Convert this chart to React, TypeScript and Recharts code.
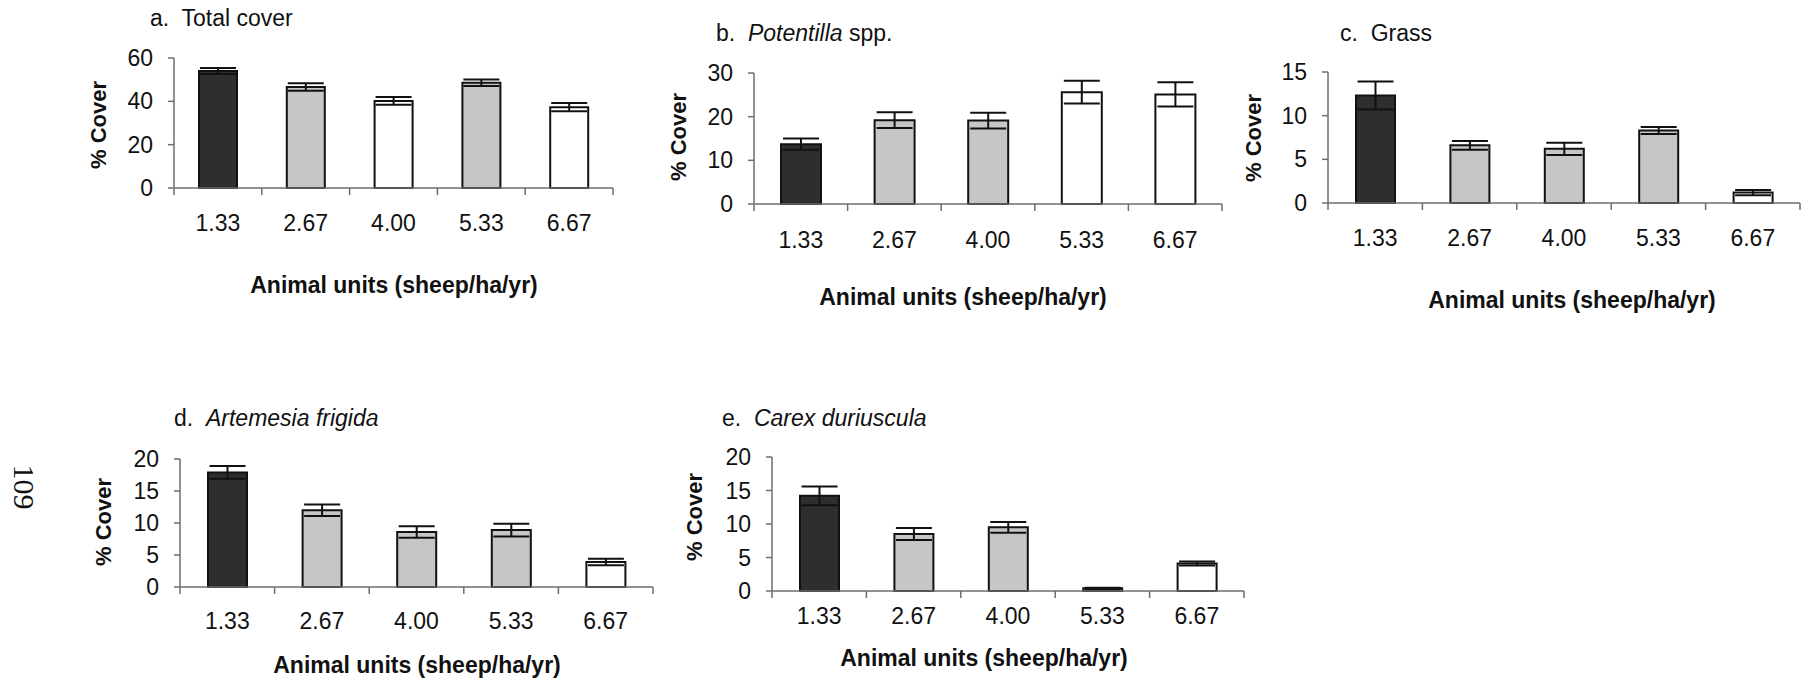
import { BarChart, Bar, XAxis, YAxis, ErrorBar, Cell } from "recharts";

// stocking rate categories (x axis)
const rates = ["1.33", "2.67", "4.00", "5.33", "6.67"];

// a. Total cover
const totalCover = [54.0, 46.6, 40.2, 48.6, 37.3];
const totalCoverSe = [1.4, 1.7, 1.8, 1.5, 1.9];
const totalCoverGroup = ["dark", "gray", "white", "gray", "white"];

// b. Potentilla spp.
const potentilla = [13.7, 19.2, 19.1, 25.6, 25.1];
const potentillaSe = [1.3, 1.8, 1.8, 2.6, 2.8];
const potentillaGroup = ["dark", "gray", "gray", "white", "white"];

// c. Grass
const grass = [12.3, 6.6, 6.2, 8.3, 1.2];
const grassSe = [1.6, 0.5, 0.7, 0.4, 0.3];
const grassGroup = ["dark", "gray", "gray", "gray", "white"];

// d. Artemesia frigida
const artemesia = [17.9, 12.0, 8.6, 8.9, 3.9];
const artemesiaSe = [1.0, 0.9, 0.9, 1.0, 0.5];
const artemesiaGroup = ["dark", "gray", "gray", "gray", "white"];

// e. Carex duriuscula
const carex = [14.2, 8.5, 9.5, 0.4, 4.1];
const carexSe = [1.4, 0.9, 0.8, 0.1, 0.3];
const carexGroup = ["dark", "gray", "gray", "gray", "white"];

const AXIS = "#6e6e6e";
const INK = "#111";
const FONT = "'Liberation Sans', Arial, Helvetica, sans-serif";

const shade: Record<string, string> = {
  dark: "#2e2e2e",
  gray: "#c6c6c6",
  white: "#ffffff",
};

type Row = { rate: string; cover: number; se: number; group: string };

const toRows = (values: number[], se: number[], groups: string[]): Row[] =>
  rates.map((rate, i) => ({ rate, cover: values[i], se: se[i], group: groups[i] }));

// x tick: label under the bar, tick marks sit on the category boundaries
function RateTick(props: any) {
  const { x, y, payload, index, band, gap, count } = props;
  const axisY = y - gap;
  return (
    <g>
      <line x1={x - band / 2} x2={x - band / 2} y1={axisY} y2={axisY + 7} stroke={AXIS} strokeWidth={1.5} />
      {index === count - 1 && (
        <line x1={x + band / 2} x2={x + band / 2} y1={axisY} y2={axisY + 7} stroke={AXIS} strokeWidth={1.5} />
      )}
      <text x={x} y={y} dy="0.71em" textAnchor="middle" fontSize={23} fill={INK} fontFamily={FONT}>
        {payload.value}
      </text>
    </g>
  );
}

interface PanelProps {
  rows: Row[];
  max: number;
  ticks: number[];
  box: [number, number, number, number]; // plot left, right, top, bottom
  barSize: number;
  gap: number;
}

function Panel({ rows, max, ticks, box, barSize, gap }: PanelProps) {
  const [x0, x1, yTop, yBot] = box;
  const band = (x1 - x0) / rows.length;
  const width = x1 - x0 + 70 + 15;
  const height = yBot - yTop + 15 + 60;
  return (
    <div style={{ position: "absolute", left: x0 - 70, top: yTop - 15 }}>
      <BarChart width={width} height={height} data={rows} margin={{ top: 15, right: 15, left: 0, bottom: 0 }}>
        <XAxis
          dataKey="rate"
          height={60}
          interval={0}
          tickLine={false}
          tickSize={0}
          tickMargin={gap}
          axisLine={{ stroke: AXIS, strokeWidth: 1.5 }}
          tick={(p: any) => <RateTick {...p} band={band} gap={gap} count={rows.length} />}
        />
        <YAxis
          width={70}
          type="number"
          domain={[0, max]}
          ticks={ticks}
          tickSize={6}
          tickMargin={15}
          axisLine={{ stroke: AXIS, strokeWidth: 1.5 }}
          tickLine={{ stroke: AXIS, strokeWidth: 1.5 }}
          tick={{ fill: INK, fontSize: 23, fontFamily: FONT }}
        />
        <Bar dataKey="cover" barSize={barSize} stroke={INK} strokeWidth={2} isAnimationActive={false}>
          {rows.map((r) => (
            <Cell key={r.rate} fill={shade[r.group]} />
          ))}
          <ErrorBar dataKey="se" width={18} strokeWidth={2} stroke={INK} direction="y" isAnimationActive={false} />
        </Bar>
      </BarChart>
    </div>
  );
}

const textBase: React.CSSProperties = {
  position: "absolute",
  whiteSpace: "nowrap",
  lineHeight: 1,
  color: INK,
  fontFamily: FONT,
};

function Title({ x, y, children }: { x: number; y: number; children: React.ReactNode }) {
  return <div style={{ ...textBase, left: x, top: y, fontSize: 23, transform: "translateY(-50%)" }}>{children}</div>;
}

function XLabel({ x, y }: { x: number; y: number }) {
  return (
    <div style={{ ...textBase, left: x, top: y, fontSize: 23, fontWeight: 700, transform: "translate(-50%, -50%)" }}>
      Animal units (sheep/ha/yr)
    </div>
  );
}

function YLabel({ x, y }: { x: number; y: number }) {
  return (
    <div
      style={{
        ...textBase,
        left: x,
        top: y,
        fontSize: 22,
        fontWeight: 700,
        transform: "translate(-50%, -50%) rotate(-90deg)",
      }}
    >
      % Cover
    </div>
  );
}

export default function App() {
  return (
    <div
      style={{
        position: "absolute",
        left: 0,
        top: 0,
        width: 1807,
        height: 682,
        background: "#fff",
        overflow: "hidden",
        fontFamily: FONT,
      }}
    >
      <Panel rows={toRows(totalCover, totalCoverSe, totalCoverGroup)} max={60} ticks={[0, 20, 40, 60]} box={[174, 613, 58, 188]} barSize={38} gap={27} />
      <Panel rows={toRows(potentilla, potentillaSe, potentillaGroup)} max={30} ticks={[0, 10, 20, 30]} box={[754, 1222, 73, 204]} barSize={40} gap={28} />
      <Panel rows={toRows(grass, grassSe, grassGroup)} max={15} ticks={[0, 5, 10, 15]} box={[1328, 1800, 72, 203]} barSize={39} gap={27} />
      <Panel rows={toRows(artemesia, artemesiaSe, artemesiaGroup)} max={20} ticks={[0, 5, 10, 15, 20]} box={[180, 653, 459, 587]} barSize={39} gap={26} />
      <Panel rows={toRows(carex, carexSe, carexGroup)} max={20} ticks={[0, 5, 10, 15, 20]} box={[772, 1244, 457, 591]} barSize={39} gap={17} />

      <Title x={150} y={18}>a.&nbsp; Total cover</Title>
      <Title x={716} y={33}>
        b.&nbsp; <i>Potentilla</i> spp.
      </Title>
      <Title x={1340} y={33}>c.&nbsp; Grass</Title>
      <Title x={174} y={418}>
        d.&nbsp; <i>Artemesia frigida</i>
      </Title>
      <Title x={722} y={418}>
        e.&nbsp; <i>Carex duriuscula</i>
      </Title>

      <XLabel x={394} y={285} />
      <XLabel x={963} y={297} />
      <XLabel x={1572} y={300} />
      <XLabel x={417} y={665} />
      <XLabel x={984} y={658} />

      <YLabel x={99} y={125} />
      <YLabel x={679} y={137} />
      <YLabel x={1254} y={138} />
      <YLabel x={104} y={522} />
      <YLabel x={695} y={517} />

      <div
        style={{
          ...textBase,
          left: 24,
          top: 487,
          fontSize: 30,
          fontFamily: "'Liberation Serif', 'Times New Roman', serif",
          transform: "translate(-50%, -50%) rotate(90deg)",
        }}
      >
        109
      </div>
    </div>
  );
}
